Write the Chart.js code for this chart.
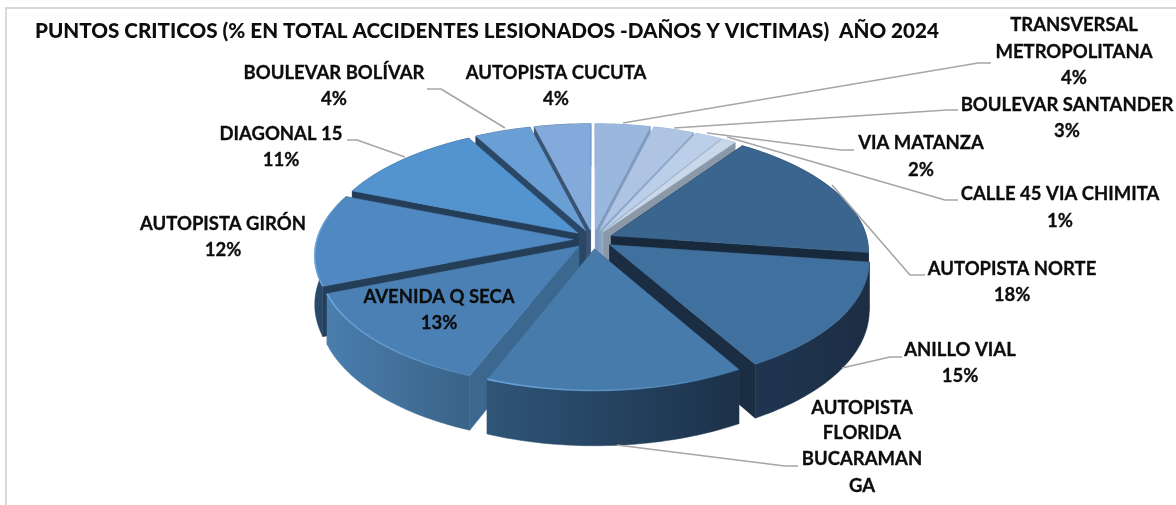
<!DOCTYPE html>
<html><head><meta charset="utf-8">
<style>html,body{margin:0;padding:0;background:#fff;overflow:hidden}#wrap{width:1176px;height:505px;position:relative}</style>
<script src="https://cdn.jsdelivr.net/npm/chart.js@4"></script>
</head><body><div id="wrap"><canvas id="c" width="1176" height="505"></canvas></div>
<script>
const titleText = 'PUNTOS CRITICOS (% EN TOTAL ACCIDENTES LESIONADOS -DAÑOS Y VICTIMAS)  AÑO 2024';
const categories = ['TRANSVERSAL METROPOLITANA','BOULEVAR SANTANDER','VIA MATANZA','CALLE 45 VIA CHIMITA','AUTOPISTA NORTE','ANILLO VIAL','AUTOPISTA FLORIDA BUCARAMANGA','AVENIDA Q SECA','AUTOPISTA GIRÓN','DIAGONAL 15','BOULEVAR BOLÍVAR','AUTOPISTA CUCUTA'];
const values = [3.9,2.9,1.9,1.0,17.5,14.5,14.3,13,12,11,4,4];

const topColors  = ['#9ab8de','#aec4e2','#bccfe8','#c9d7ea','#3a658e','#40709e','#467bab','#4a80b4','#5088c1','#5393cf','#6a9fd6','#83aada'];
const wallColors = ['#7f9cc0','#8ba5c8','#98adc8','#8b98a8','#17293b','#1b2d42','#2a4a6a','#3c6890','#243e58','#243e58','#2a4766','#3a5372'];
const sideLeft   = ['#7f9cc0','#8ba5c8','#98adc8','#8b98a8','#1c3046','#1f3550','#2f5578','#4a7ead','#2a4a6a','#243e58','#2a4766','#3a5372'];
const sideRight  = ['#7f9cc0','#8ba5c8','#98adc8','#8b98a8','#1a2b3f','#1c2e44','#1c3149','#3a6388','#243e58','#243e58','#2a4766','#3a5372'];
const labelLines = [['TRANSVERSAL','METROPOLITANA','4%'],['BOULEVAR SANTANDER','3%'],['VIA MATANZA','2%'],['CALLE 45 VIA CHIMITA','1%'],['AUTOPISTA NORTE','18%'],['ANILLO VIAL','15%'],['AUTOPISTA','FLORIDA','BUCARAMAN','GA'],['AVENIDA Q SECA','13%'],['AUTOPISTA GIRÓN','12%'],['DIAGONAL 15','11%'],['BOULEVAR BOLÍVAR','4%'],['AUTOPISTA CUCUTA','4%']];

const labelPlaces = [[1074,[25,52,78]],[1067,[105,131]],[921,[143,170]],[1060,[194,221]],[1012,[269,295]],[960,[350,376]],[862,[408,433,459,486]],[439,[297,323]],[223,[224,250]],[281,[134,160]],[334,[73,99]],[556,[73,99]]];
const leaders = [
 [[991,63],[978,63],[623,123]],
 [[958,110],[947,110],[674,128]],
 [[854,150],[841,150],[707,133]],
 [[958,200],[945,200],[727,137]],
 [[925,275],[910,275],[832,185]],
 [[902,357],[890,357],[842,368]],
 [[798,466],[785,466],[617,445]],
 [[347,140],[357,140],[405,157]],
 [[427,89],[441,89],[505,128]]
];

const view = {sinT:.475, cosT:.88, d:1841, radius:256, explode:20, depth:48};

const pie3d = {
  id:'pie3d',
  beforeDraw(chart){
    const g=chart.ctx; g.save(); g.fillStyle='#fff'; g.fillRect(0,0,1176,505);
    g.strokeStyle='#d9d9d9'; g.lineWidth=2; g.strokeRect(6,8,1300,700); g.restore();
  },
  beforeDatasetsDraw(chart){
    const g=chart.ctx, arcs=chart.getDatasetMeta(0).data;
    const scale=view.radius/arcs[0].outerRadius;
    const cx=arcs[0].x, cy=arcs[0].y;
    const P=(r,th,bis,z)=>{
      const px=r*Math.sin(th)+view.explode*Math.sin(bis);
      const py=r*Math.cos(th)+view.explode*Math.cos(bis);
      const s=view.d/(view.d+py*view.cosT);
      return [cx+s*px, cy-s*py*view.sinT+z*s];
    };
    const items=arcs.map((a,i)=>{
      const t0=a.startAngle+Math.PI/2, t1=a.endAngle+Math.PI/2;
      return {i,t0,t1,bis:(t0+t1)/2,r:a.outerRadius*scale};
    });
    items.sort((u,v)=>Math.cos(v.bis)-Math.cos(u.bis));
    const poly=(pts,fill)=>{g.beginPath();pts.forEach((p,k)=>k?g.lineTo(p[0],p[1]):g.moveTo(p[0],p[1]));g.closePath();g.fillStyle=fill;g.fill();g.strokeStyle=fill;g.lineWidth=.5;g.stroke();};
    g.save();
    for(const it of items){
      const {i,t0,t1,bis,r}=it, h=view.depth;
      const n=Math.max(4,Math.ceil((t1-t0)/0.02));
      const rim=[];for(let k=0;k<=n;k++)rim.push(t0+(t1-t0)*k/n);
      const top=rim.map(t=>P(r,t,bis,0)), bot=rim.map(t=>P(r,t,bis,h));
      const a0=P(0,t0,bis,0), a1=P(0,t0,bis,h);
      poly([a0,top[0],bot[0],a1],wallColors[i]);
      poly([a0,top[n],bot[n],a1],wallColors[i]);
      const xs=top.map(p=>p[0]), xa=Math.min(...xs), xb=Math.max(...xs);
      const grad=g.createLinearGradient(xa,0,xb,0);
      grad.addColorStop(0,sideLeft[i]);grad.addColorStop(1,sideRight[i]);
      poly(top.concat(bot.slice().reverse()),grad);
      poly([a0].concat(top),topColors[i]);
      if(i>=6 && i<=8){
        const rg=g.createLinearGradient(xa,0,xb,0);
        rg.addColorStop(0,'rgba(110,170,225,.9)');rg.addColorStop(.7,'rgba(110,170,225,.35)');rg.addColorStop(1,'rgba(110,170,225,0)');
        g.beginPath();top.forEach((p,k)=>k?g.lineTo(p[0],p[1]):g.moveTo(p[0],p[1]));
        g.strokeStyle=rg;g.lineWidth=1.6;g.stroke();
      }
    }
    g.restore();
    return false;
  },
  afterDraw(chart){
    const g=chart.ctx; g.save();
    g.strokeStyle='#a6a6a6'; g.lineWidth=1.6; g.lineJoin='round';
    leaders.forEach(l=>{g.beginPath();l.forEach((p,k)=>k?g.lineTo(p[0],p[1]):g.moveTo(p[0],p[1]));g.stroke();});
    g.fillStyle='#0d0d0d'; g.strokeStyle='#0d0d0d'; g.lineWidth=.3; g.font='bold 18.5px Lato'; g.textAlign='center'; g.textBaseline='middle';
    labelLines.forEach((ls,i)=>{const [x,ys]=labelPlaces[i];ls.forEach((t,k)=>{g.fillText(t,x,ys[k]);g.strokeText(t,x,ys[k]);});});
    g.restore();
  }
};

new Chart(document.getElementById('c'),{
  type:'pie',
  data:{labels:categories,datasets:[{data:values,backgroundColor:topColors,borderWidth:0}]},
  options:{
    responsive:false,animation:false,
    layout:{padding:{left:35,right:25,top:0,bottom:71.4}},
    plugins:{
      legend:{display:false},tooltip:{enabled:false},
      title:{display:true,text:titleText,align:'start',color:'#0d0d0d',font:{family:'Lato',size:20.65,weight:'900'},padding:{top:18.6,bottom:2}}
    }
  },
  plugins:[pie3d]
});
</script></body></html>
